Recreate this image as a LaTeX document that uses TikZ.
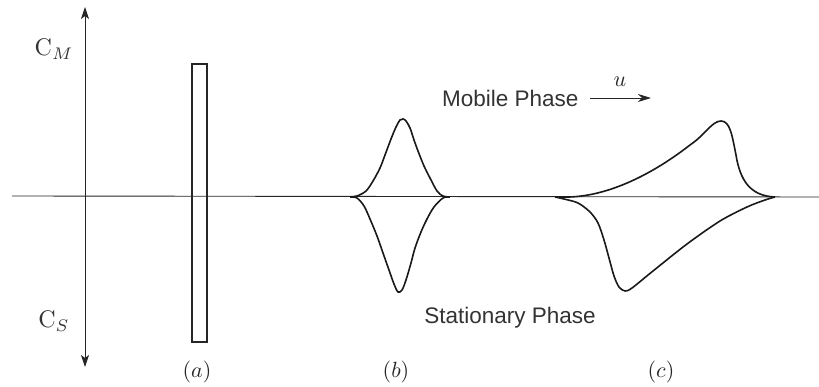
\documentclass[tikz,border=0pt]{standalone}
\usepackage{fontspec}
\setsansfont{Liberation Sans}
\usetikzlibrary{arrows.meta}
\tikzset{
  thinline/.style={line width=0.9pt, black!85},
  curve/.style={line width=1.6pt, black!90, line join=round},
  phasetext/.style={font=\sffamily\fontsize{22.5}{26}\selectfont, text=black!80, inner sep=0pt},
  caselabel/.style={font=\normalsize, scale=2.2, text=black!85, inner sep=0pt},
  axislabel/.style={font=\normalsize, scale=2.4, text=black!80, inner sep=0pt}
}
\begin{document}
\begin{tikzpicture}[x=1pt,y=-1pt]
\useasboundingbox (0,0) rectangle (819,387);
% baseline
\coordinate (bl) at (12,196);
\coordinate (br) at (819,197);
\draw[thinline] (bl) -- (br);
% vertical double arrow
\coordinate (vt) at (85,7);
\coordinate (vb) at (85,367);
\draw[thinline, {Stealth[length=12pt,width=8pt,inset=3pt]}-{Stealth[length=12pt,width=8pt,inset=3pt]}] (vb) -- (vt);
\node[axislabel] (cm) at (54,49) {$\mathrm{C}_M$};
\node[axislabel] (cs) at (54,321) {$\mathrm{C}_S$};
% (a) rectangle
\draw[line width=1.3pt, black!85] (192,64) rectangle (207,342);
% (b) peak
\draw[curve] plot[smooth, tension=0.55] coordinates {
  (350,197) (357,196) (366,191) (373,181) (380,168) (385,155) (391,139) (396,127) (400,120) (403,119) (406,121) (410,128) (414,140) (418,151) (424,166) (430,178) (437,191) (443,196) (450,197)};
\draw[curve] plot[smooth, tension=0.55] coordinates {
  (350,197) (357,198) (364,206) (370,219) (377,236) (383,253) (389,270) (394,284) (398,292) (402,290) (406,280) (411,263) (415,248) (421,232) (427,219) (434,207) (443,198) (450,197)};
% (c) peak
\draw[curve] (555,197) -- (563,197) .. controls (600,198) and (645,180) .. (690,145)
  .. controls (705,135) and (712,121) .. (721,121)
  .. controls (730,121) and (732,135) .. (736,155)
  .. controls (740,180) and (750,196) .. (775,197);
\draw[curve] plot[smooth, tension=0.5] coordinates {
  (555,197) (564,199) (578,203) (590,212) (598,223) (604,240) (609,258) (614,276) (619,287) (625,291) (632,288) (653,271) (687,244) (720,221) (747,207) (765,200) (775,197)};
% texts
\node[phasetext, anchor=west] (mp) at (442,98) {Mobile Phase};
\coordinate (ua) at (590,98);
\coordinate (ub) at (651,98);
\draw[thinline, -{Stealth[length=13pt,width=8pt,inset=4pt]}] (ua) -- (ub);
\node[caselabel] (u) at (620,82) {$u$};
\node[phasetext] (sp) at (510,318) {Stationary Phase};
\node[caselabel] (la) at (197,372) {$(a)$};
\node[caselabel] (lb) at (396,372) {$(b)$};
\node[caselabel] (lc) at (661,372) {$(c)$};
\end{tikzpicture}
\end{document}
